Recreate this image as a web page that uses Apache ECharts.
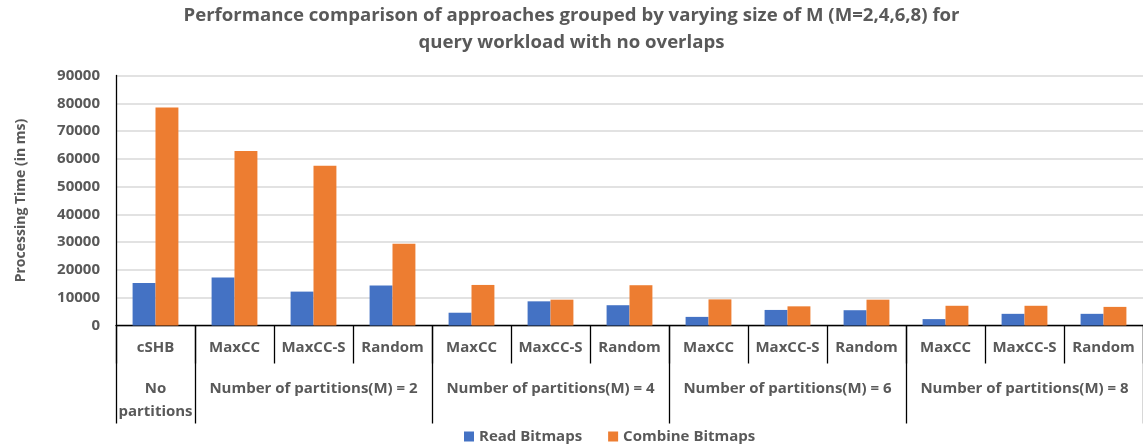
<!DOCTYPE html>
<html>
<head>
<meta charset="utf-8">
<script src="https://cdn.jsdelivr.net/npm/echarts@6/dist/echarts.min.js"></script>
<style>
  html, body { margin: 0; padding: 0; background: #fff; }
  #chart { width: 1143px; height: 448px; }
</style>
</head>
<body>
<div id="chart"></div>
<script>
// Approach per bar pair (first label row)
const approaches = ['cSHB', 'MaxCC', 'MaxCC-S', 'Random', 'MaxCC', 'MaxCC-S', 'Random',
                    'MaxCC', 'MaxCC-S', 'Random', 'MaxCC', 'MaxCC-S', 'Random'];
// Partition groups (second label row): label, first category index, size
const groupLabels = ['No\npartitions', 'Number of partitions(M) = 2', 'Number of partitions(M) = 4',
                     'Number of partitions(M) = 6', 'Number of partitions(M) = 8'];
const groupStarts = [0, 1, 4, 7, 10];
const groupSizes = [1, 3, 3, 3, 3];
// Processing time in ms
const readBitmaps    = [15300, 17300, 12200, 14400, 4600, 8700, 7300, 3100, 5600, 5500, 2300, 4200, 4200];
const combineBitmaps = [78500, 62800, 57500, 29400, 14600, 9300, 14500, 9400, 6900, 9300, 7100, 7100, 6700];
const yTicks = { min: 0, max: 90000, interval: 10000 };

const textGray = '#595959';
const font = '"Open Sans", sans-serif';

// Category indices where a group label sits (middle of each group)
const groupLabelIndex = {};
groupStarts.forEach((s, i) => { groupLabelIndex[s + Math.floor(groupSizes[i] / 2)] = groupLabels[i]; });

const chart = echarts.init(document.getElementById('chart'));
chart.setOption({
  animation: false,
  title: {
    text: 'Performance comparison of approaches grouped by varying size of M (M=2,4,6,8) for\nquery workload with no overlaps',
    left: 'center',
    top: 2.5,
    padding: 0,
    textStyle: { fontFamily: font, fontSize: 18.6, fontWeight: 'bold', color: textGray, lineHeight: 27 }
  },
  legend: {
    left: 464,
    top: 429,
    padding: 0,
    itemWidth: 10,
    itemHeight: 10,
    itemGap: 26,
    icon: 'rect',
    textStyle: { fontFamily: font, fontSize: 15, fontWeight: 'bold', color: textGray },
    data: ['Read Bitmaps', 'Combine Bitmaps']
  },
  grid: { left: 116, top: 75.5, width: 1031, height: 250 },
  xAxis: [
    {
      type: 'category',
      data: approaches,
      position: 'bottom',
      axisLine: { show: true, lineStyle: { color: '#000', width: 1.3 } },
      axisTick: { show: true, interval: 0, length: 38, lineStyle: { color: '#000', width: 1.3 } },
      axisLabel: { interval: 0, margin: 15, fontFamily: font, fontSize: 15, fontWeight: 'bold', color: textGray }
    },
    {
      type: 'category',
      data: approaches,
      position: 'bottom',
      axisLine: { show: false },
      axisTick: {
        show: true,
        length: 98,
        interval: (idx) => groupStarts.indexOf(idx) >= 0,
        lineStyle: { color: '#000', width: 1.3 }
      },
      axisLabel: {
        interval: (idx) => idx in groupLabelIndex,
        formatter: (v, idx) => groupLabelIndex[idx] || '',
        margin: 52,
        lineHeight: 23,
        fontFamily: font, fontSize: 15, fontWeight: 'bold', color: textGray
      }
    }
  ],
  yAxis: {
    type: 'value',
    min: yTicks.min,
    max: yTicks.max,
    interval: yTicks.interval,
    name: 'Processing Time (in ms)',
    nameLocation: 'middle',
    nameGap: 88,
    nameTextStyle: { fontFamily: font, fontSize: 14, fontWeight: 'bold', color: textGray },
    axisLine: { show: true, lineStyle: { color: '#000', width: 1.3 } },
    axisTick: { show: false },
    axisLabel: {
      margin: 16,
      formatter: (v) => String(v),
      fontFamily: font, fontSize: 15, fontWeight: 'bold', color: textGray
    },
    splitLine: { show: true, lineStyle: { color: '#d9d9d9', width: 1.5 } }
  },
  series: [
    {
      name: 'Read Bitmaps',
      type: 'bar',
      data: readBitmaps,
      barGap: '0%',
      barCategoryGap: '42%',
      itemStyle: { color: '#4472c4' }
    },
    {
      name: 'Combine Bitmaps',
      type: 'bar',
      data: combineBitmaps,
      barGap: '0%',
      barCategoryGap: '42%',
      itemStyle: { color: '#ed7d31' }
    }
  ]
});
</script>
</body>
</html>
